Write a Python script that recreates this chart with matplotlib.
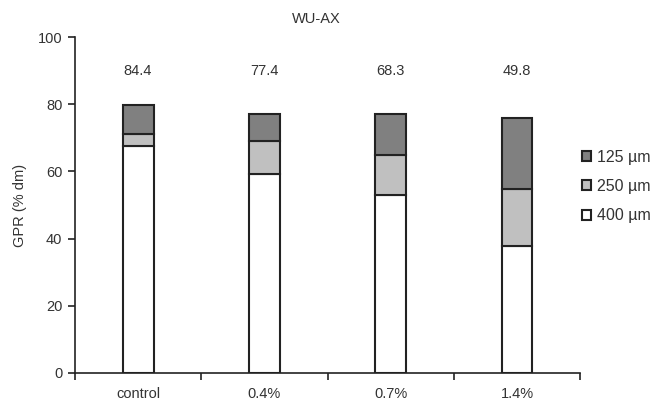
import numpy as np
import matplotlib.pyplot as plt

plt.rcParams['font.family'] = ['Liberation Sans', 'DejaVu Sans']

# data
categories = ['control', '0.4%', '0.7%', '1.4%']
gpr_400 = [67.6, 59.3, 53.0, 37.8]
gpr_250 = [3.6, 9.7, 11.9, 17.1]
gpr_125 = [8.6, 8.1, 12.2, 20.9]
totals = ['84.4', '77.4', '68.3', '49.8']

txt = '#333333'
edge = '#222222'

fig = plt.figure(figsize=(6.57, 4.08), dpi=100)
ax = fig.add_axes([0.114, 0.086, 0.769, 0.823])

x = np.arange(len(categories))
w = 0.245
b1 = np.array(gpr_400)
b2 = b1 + np.array(gpr_250)
ax.bar(x, gpr_400, w, color='white', edgecolor=edge, linewidth=1.5, label='400 µm')
ax.bar(x, gpr_250, w, bottom=b1, color='#c0c0c0', edgecolor=edge, linewidth=1.5, label='250 µm')
ax.bar(x, gpr_125, w, bottom=b2, color='#808080', edgecolor=edge, linewidth=1.5, label='125 µm')

for i, t in enumerate(totals):
    ax.text(x[i], 90, t, ha='center', va='center', fontsize=10.5, color=txt)

ax.text(0.477, 1.055, 'WU-AX', transform=ax.transAxes, ha='center', va='center',
        fontsize=10.5, color=txt)

ax.set_xlim(-0.5, 3.5)
ax.set_ylim(0, 100)
ax.set_yticks([0, 20, 40, 60, 80, 100])
ax.set_ylabel('GPR (% dm)', fontsize=10.5, color=txt, labelpad=8)

ax.set_xticks(np.arange(-0.5, 4, 1))
ax.set_xticklabels([])
ax.set_xticks(x, minor=True)
ax.set_xticklabels(categories, minor=True)
ax.tick_params(axis='x', which='major', direction='out', length=5, width=1.2, color=edge)
ax.tick_params(axis='x', which='minor', length=0, pad=10, labelsize=10.5, labelcolor=txt)
ax.tick_params(axis='y', direction='out', length=5, width=1.2, color=edge,
               labelsize=10.5, labelcolor=txt, pad=4)

for s in ['top', 'right']:
    ax.spines[s].set_visible(False)
for s in ['left', 'bottom']:
    ax.spines[s].set_linewidth(1.2)
    ax.spines[s].set_color(edge)

h, l = ax.get_legend_handles_labels()
leg = ax.legend(h[::-1], l[::-1], loc='center left', bbox_to_anchor=(0.975, 0.555),
                frameon=False, fontsize=11.5, handlelength=0.6, handleheight=0.6,
                handletextpad=0.35, labelspacing=0.9, labelcolor=txt)

fig.savefig('out.png', dpi=100)
